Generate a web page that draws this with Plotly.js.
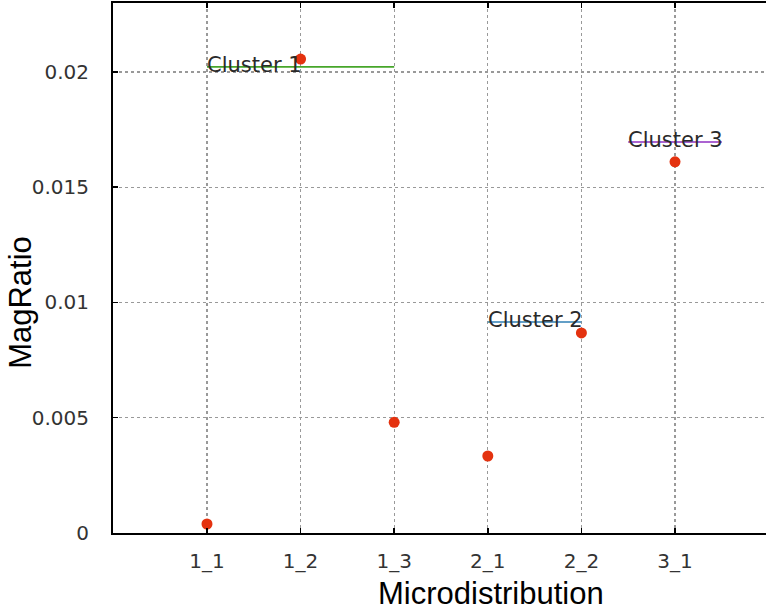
<!DOCTYPE html>
<html>
<head>
<meta charset="utf-8">
<script src="https://cdn.plot.ly/plotly-3.0.1.min.js"></script>
<style>html,body{margin:0;padding:0;background:#fff;}#chart{width:766px;height:613px;}</style>
</head>
<body>
<div id="chart"></div>
<script>
// Data
const categories = ['1_1', '1_2', '1_3', '2_1', '2_2', '3_1'];
const magRatio = [0.00039, 0.02056, 0.00480, 0.00334, 0.00868, 0.01610];
const clusterNames = ['Cluster 1', 'Cluster 2', 'Cluster 3'];
const clusterStart = [0, 3, 4.5];
const clusterEnd = [2, 4, 5.5];
const clusterLevel = [0.02022, 0.00915, 0.01696];
const clusterColors = ['#46a62a', '#2f7fb5', '#8f2fc2'];
const yTicks = [0, 0.005, 0.01, 0.015, 0.02];
const yTickText = ['0', '0.005', '0.01', '0.015', '0.02'];

const idx = categories.map((_, i) => i);

const traces = [];
clusterNames.forEach((name, i) => {
  traces.push({
    x: [clusterStart[i], clusterEnd[i]],
    y: [clusterLevel[i], clusterLevel[i]],
    mode: 'lines',
    line: {color: clusterColors[i], width: 1.6},
    hoverinfo: 'skip',
    showlegend: false
  });
});
traces.push({
  x: idx,
  y: magRatio,
  mode: 'markers',
  marker: {color: '#e4320f', size: 11},
  showlegend: false
});

const annotations = clusterNames.map((name, i) => ({
  x: clusterStart[i], y: clusterLevel[i], xref: 'x', yref: 'y',
  text: name, showarrow: false, xanchor: 'left', yanchor: 'middle',
  xshift: -2, yshift: 2,
  font: {family: 'DejaVu Sans', size: 21, color: '#2a2a2a'}
}));
annotations.push({
  x: 0.579, y: 0, xref: 'paper', yref: 'paper', yanchor: 'top', yshift: -41,
  text: 'Microdistribution', showarrow: false,
  font: {family: 'Liberation Sans, Arial', size: 31, color: '#000'}
});
annotations.push({
  x: -0.141, y: 0.436, xref: 'paper', yref: 'paper', xanchor: 'center', yanchor: 'middle',
  text: 'MagRatio', showarrow: false, textangle: -90,
  font: {family: 'Liberation Sans, Arial', size: 31, color: '#000'}
});

const layout = {
  width: 766, height: 613,
  margin: {l: 113, r: 0, t: 3, b: 80, pad: 0},
  paper_bgcolor: '#fff', plot_bgcolor: '#fff',
  showlegend: false,
  xaxis: {
    range: [-1.004, 5.972],
    tickvals: idx, ticktext: categories,
    showgrid: true, gridcolor: '#999', griddash: 'dot', gridwidth: 1.2,
    zeroline: false,
    showline: true, linecolor: '#000', linewidth: 2, mirror: 'ticks',
    ticks: 'inside', ticklen: 5, tickcolor: '#000', tickwidth: 1.5,
    ticklabelstandoff: 9,
    tickfont: {family: 'DejaVu Sans', size: 20, color: '#333'}
  },
  yaxis: {
    range: [0, 0.02299],
    tickvals: yTicks, ticktext: yTickText,
    showgrid: true, gridcolor: '#999', griddash: 'dot', gridwidth: 1.2,
    zeroline: false,
    showline: true, linecolor: '#000', linewidth: 2,
    ticks: 'inside', ticklen: 5, tickcolor: '#000', tickwidth: 1.5,
    ticklabelstandoff: 18,
    tickfont: {family: 'DejaVu Sans', size: 20, color: '#333'}
  },
  annotations: annotations
};

Plotly.newPlot('chart', traces, layout, {displayModeBar: false, staticPlot: true});
</script>
</body>
</html>
